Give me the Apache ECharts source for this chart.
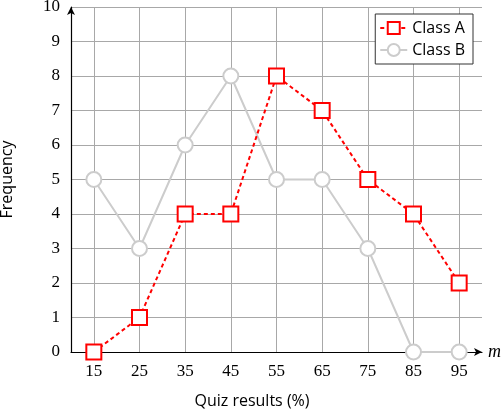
<!DOCTYPE html>
<html><head><meta charset="utf-8">
<script src="https://cdn.jsdelivr.net/npm/echarts@6/dist/echarts.min.js"></script>
<style>html,body{margin:0;padding:0;background:#fff}#c{width:504px;height:416px}</style>
</head><body><div id="c"></div>
<script>
const quizResults = [15, 25, 35, 45, 55, 65, 75, 85, 95];
const classA = [0, 1, 4, 4, 8, 7, 5, 4, 2];
const classB = [5, 3, 6, 8, 5, 5, 3, 0, 0];
const yTicks = [0,1,2,3,4,5,6,7,8,9,10];

const chart = echarts.init(document.getElementById('c'), null, {renderer:'canvas'});
const serif = '"Liberation Serif", serif';
const sans = '"Open Sans", sans-serif';
chart.setOption({
  animation: false,
  grid: {left: 71, right: 22, top: 7, bottom: 64, containLabel: false, outerBoundsMode: 'none'},
  legend: {
    right: 31, top: 14, orient: 'vertical',
    backgroundColor: '#fff', borderColor: '#333', borderWidth: 1,
    padding: [6, 8, 6, 4], itemGap: 6, itemWidth: 27, itemHeight: 15,
    textStyle: {fontFamily: sans, fontSize: 16, color: '#000'},
    data: ['Class A', 'Class B']
  },
  xAxis: {
    type: 'value', min: 10, max: 100, interval: 5,
    name: 'm', nameLocation: 'end', nameGap: 6,
    nameTextStyle: {fontFamily: serif, fontStyle: 'italic', fontSize: 18, color: '#000', verticalAlign: 'middle'},
    axisLine: {show: true, onZero: false, symbol: ['none', 'arrow'], symbolSize: [6, 8], lineStyle: {color: '#000', width: 1.2}},
    axisTick: {show: false},
    axisLabel: {fontFamily: serif, fontSize: 17, color: '#000', margin: 11,
      formatter: v => (v % 10 === 5 ? String(v) : ''), showMinLabel: true, showMaxLabel: true},
    splitLine: {show: true, lineStyle: {color: ['rgba(0,0,0,0)', '#a8a8a8'], width: 1}}
  },
  yAxis: {
    type: 'value', min: 0, max: 10, interval: 1,
    name: 'Frequency', nameLocation: 'middle', nameGap: 56, nameRotate: 90,
    nameTextStyle: {fontFamily: sans, fontSize: 16, color: '#000'},
    axisLine: {show: true, onZero: false, symbol: ['none', 'arrow'], symbolSize: [6, 8], lineStyle: {color: '#000', width: 1.2}},
    axisTick: {show: false},
    axisLabel: {fontFamily: serif, fontSize: 17, color: '#000', margin: 11},
    splitLine: {show: true, lineStyle: {color: '#a8a8a8', width: 1}}
  },
  graphic: [{
    type: 'text', left: 'center', top: 393,
    style: {text: 'Quiz results (%)', font: '16px "Open Sans"', fill: '#000'}
  }],
  series: [
    {
      name: 'Class B', type: 'line', z: 2,
      data: quizResults.map((x, i) => [x, classB[i]]),
      symbol: 'circle', symbolSize: 15,
      lineStyle: {color: '#cccccc', width: 2},
      itemStyle: {color: '#ffffff', borderColor: '#cccccc', borderWidth: 2}
    },
    {
      name: 'Class A', type: 'line', z: 3,
      data: quizResults.map((x, i) => [x, classA[i]]),
      symbol: 'rect', symbolSize: 15,
      lineStyle: {color: '#ff0000', width: 2, type: [4, 3]},
      itemStyle: {color: '#ffffff', borderColor: '#ff0000', borderWidth: 2}
    }
  ]
});
</script></body></html>
